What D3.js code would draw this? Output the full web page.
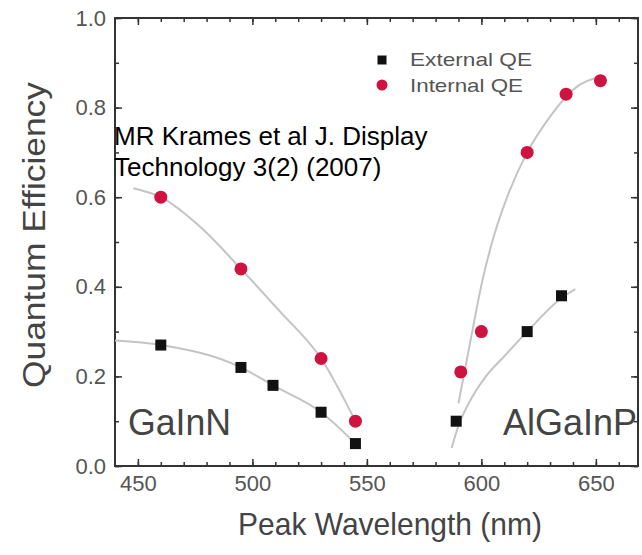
<!DOCTYPE html>
<html>
<head>
<meta charset="utf-8">
<script src="https://cdn.jsdelivr.net/npm/d3@7"></script>
<style>
  body { margin: 0; background: #fff; }
  svg { display: block; font-family: "Liberation Sans", Arial, sans-serif; }
</style>
</head>
<body>
<svg id="qeChart" width="642" height="555"></svg>
<script>
// --- Data ---
const gainnWlInt = [460, 495, 530, 545];
const gainnIQE   = [0.60, 0.44, 0.24, 0.10];
const gainnWlExt = [460, 495, 509, 530, 545];
const gainnEQE   = [0.27, 0.22, 0.18, 0.12, 0.05];

const algaWlInt = [591, 600, 620, 637, 652];
const algaIQE   = [0.21, 0.30, 0.70, 0.83, 0.86];
const algaWlExt = [589, 620, 635];
const algaEQE   = [0.10, 0.30, 0.38];

// fitted guide curves (grey)
const fitGainnIntWl = [448, 460, 478, 495, 512, 530, 545];
const fitGainnIntQE = [0.62, 0.60, 0.53, 0.44, 0.345, 0.24, 0.10];
const fitGainnExtWl = [440, 460, 495, 509, 530, 545];
const fitGainnExtQE = [0.28, 0.27, 0.22, 0.18, 0.12, 0.05];
const fitAlgaIntWl  = [590, 593, 596, 600.5, 605, 612, 620, 630, 640, 653];
const fitAlgaIntQE  = [0.14, 0.22, 0.30, 0.415, 0.505, 0.61, 0.70, 0.78, 0.84, 0.87];
const fitAlgaExtWl  = [587, 590, 595, 602, 610, 620, 635, 641];
const fitAlgaExtQE  = [0.04, 0.09, 0.145, 0.20, 0.245, 0.30, 0.375, 0.395];

const xMajor = [450, 500, 550, 600, 650];
const xMinor = d3.range(450, 661, 10);
const yMajor = [0.0, 0.2, 0.4, 0.6, 0.8, 1.0];
const yMinor = d3.range(0, 1.01, 0.1);

const svg = d3.select("#qeChart");
const margin = { top: 18, right: 4, bottom: 89, left: 115 };
const width = +svg.attr("width");
const height = +svg.attr("height");
const innerWidth = width - margin.left - margin.right;
const innerHeight = height - margin.top - margin.bottom;

const g = svg.append("g").attr("transform", `translate(${margin.left},${margin.top})`);

// --- Scales ---
const x = d3.scaleLinear().domain([440, 668.4]).range([0, innerWidth]);
const y = d3.scaleLinear().domain([0, 1]).range([innerHeight, 0]);

const zip = (a, b) => a.map((v, i) => [v, b[i]]);

// --- Axes (ticks pointing inward, mirrored on top/right) ---
function styleAxis(sel) {
  sel.select(".domain").remove();
  sel.selectAll("line").attr("stroke", "#333").attr("stroke-width", 1.5);
  // drop the empty labels of unlabelled tick sets
  sel.selectAll("text").filter(function () { return !this.textContent; }).remove();
  sel.selectAll("text")
    .attr("fill", "#555")
    .attr("font-size", 22)
    .attr("font-family", "'Liberation Sans', Arial, sans-serif");
}

// minor ticks
g.append("g").attr("transform", `translate(0,${innerHeight})`)
  .call(d3.axisBottom(x).tickValues(xMinor).tickSizeInner(-4).tickSizeOuter(0).tickFormat(""))
  .call(styleAxis);
g.append("g")
  .call(d3.axisTop(x).tickValues(xMinor).tickSizeInner(-4).tickSizeOuter(0).tickFormat(""))
  .call(styleAxis);
g.append("g")
  .call(d3.axisLeft(y).tickValues(yMinor).tickSizeInner(-4).tickSizeOuter(0).tickFormat(""))
  .call(styleAxis);
g.append("g").attr("transform", `translate(${innerWidth},0)`)
  .call(d3.axisRight(y).tickValues(yMinor).tickSizeInner(-4).tickSizeOuter(0).tickFormat(""))
  .call(styleAxis);

// major ticks + labels
g.append("g").attr("transform", `translate(0,${innerHeight})`)
  .call(d3.axisBottom(x).tickValues(xMajor).tickSizeInner(-7).tickSizeOuter(0).tickPadding(9).tickFormat(d3.format("d")))
  .call(styleAxis);
g.append("g")
  .call(d3.axisTop(x).tickValues(xMajor).tickSizeInner(-7).tickSizeOuter(0).tickFormat(""))
  .call(styleAxis);
g.append("g")
  .call(d3.axisLeft(y).tickValues(yMajor).tickSizeInner(-7).tickSizeOuter(0).tickPadding(9).tickFormat(d3.format(".1f")))
  .call(styleAxis);
g.append("g").attr("transform", `translate(${innerWidth},0)`)
  .call(d3.axisRight(y).tickValues(yMajor).tickSizeInner(-7).tickSizeOuter(0).tickFormat(""))
  .call(styleAxis);

// frame
g.append("rect")
  .attr("width", innerWidth)
  .attr("height", innerHeight)
  .attr("fill", "none")
  .attr("stroke", "#333")
  .attr("stroke-width", 2);

// --- Fit curves ---
const line = d3.line()
  .x(d => x(d[0]))
  .y(d => y(d[1]))
  .curve(d3.curveMonotoneX);

[
  zip(fitGainnIntWl, fitGainnIntQE),
  zip(fitGainnExtWl, fitGainnExtQE),
  zip(fitAlgaIntWl, fitAlgaIntQE),
  zip(fitAlgaExtWl, fitAlgaExtQE)
].forEach(pts => {
  g.append("path")
    .datum(pts)
    .attr("fill", "none")
    .attr("stroke", "#c4c4c4")
    .attr("stroke-width", 2)
    .attr("d", line);
});

// --- Markers ---
const red = "#cf123f";
const sq = 11;
const extPts = zip(gainnWlExt, gainnEQE).concat(zip(algaWlExt, algaEQE));
const intPts = zip(gainnWlInt, gainnIQE).concat(zip(algaWlInt, algaIQE));

g.selectAll(".ext")
  .data(extPts)
  .join("rect")
  .attr("class", "ext")
  .attr("x", d => x(d[0]) - sq / 2)
  .attr("y", d => y(d[1]) - sq / 2)
  .attr("width", sq)
  .attr("height", sq)
  .attr("fill", "#111");

g.selectAll(".int")
  .data(intPts)
  .join("circle")
  .attr("class", "int")
  .attr("cx", d => x(d[0]))
  .attr("cy", d => y(d[1]))
  .attr("r", 6.5)
  .attr("fill", red);

// --- Legend ---
const legend = svg.append("g").attr("transform", "translate(382,60)");
legend.append("rect").attr("x", -4.5).attr("y", -4.5).attr("width", 9).attr("height", 9).attr("fill", "#111");
legend.append("circle").attr("cx", 0).attr("cy", 25).attr("r", 5.5).attr("fill", red);
legend.append("text").attr("x", 28).attr("y", 6).attr("font-size", 19).attr("fill", "#555")
  .attr("textLength", 122).attr("lengthAdjust", "spacingAndGlyphs").text("External QE");
legend.append("text").attr("x", 28).attr("y", 32).attr("font-size", 19).attr("fill", "#555")
  .attr("textLength", 113).attr("lengthAdjust", "spacingAndGlyphs").text("Internal QE");

// --- Material labels ---
svg.append("text").attr("x", 128).attr("y", 435).attr("font-size", 36).attr("fill", "#444")
  .attr("textLength", 103).attr("lengthAdjust", "spacingAndGlyphs").text("GaInN");
svg.append("text").attr("x", 503).attr("y", 435).attr("font-size", 36).attr("fill", "#444")
  .attr("textLength", 134).attr("lengthAdjust", "spacingAndGlyphs").text("AlGaInP");

// --- Citation ---
svg.append("text").attr("x", 114).attr("y", 145).attr("font-size", 26).attr("fill", "#000")
  .text("MR Krames et al J. Display");
svg.append("text").attr("x", 114).attr("y", 176).attr("font-size", 26).attr("fill", "#000")
  .text("Technology 3(2) (2007)");

// --- Axis titles ---
svg.append("text")
  .attr("x", 390)
  .attr("y", 535)
  .attr("text-anchor", "middle")
  .attr("font-size", 32)
  .attr("fill", "#444")
  .attr("textLength", 304)
  .attr("lengthAdjust", "spacingAndGlyphs")
  .text("Peak Wavelength (nm)");

svg.append("text")
  .attr("transform", "rotate(-90)")
  .attr("x", -235)
  .attr("y", 45)
  .attr("text-anchor", "middle")
  .attr("font-size", 31)
  .attr("fill", "#444")
  .attr("textLength", 306)
  .attr("lengthAdjust", "spacingAndGlyphs")
  .text("Quantum Efficiency");
</script>
</body>
</html>
